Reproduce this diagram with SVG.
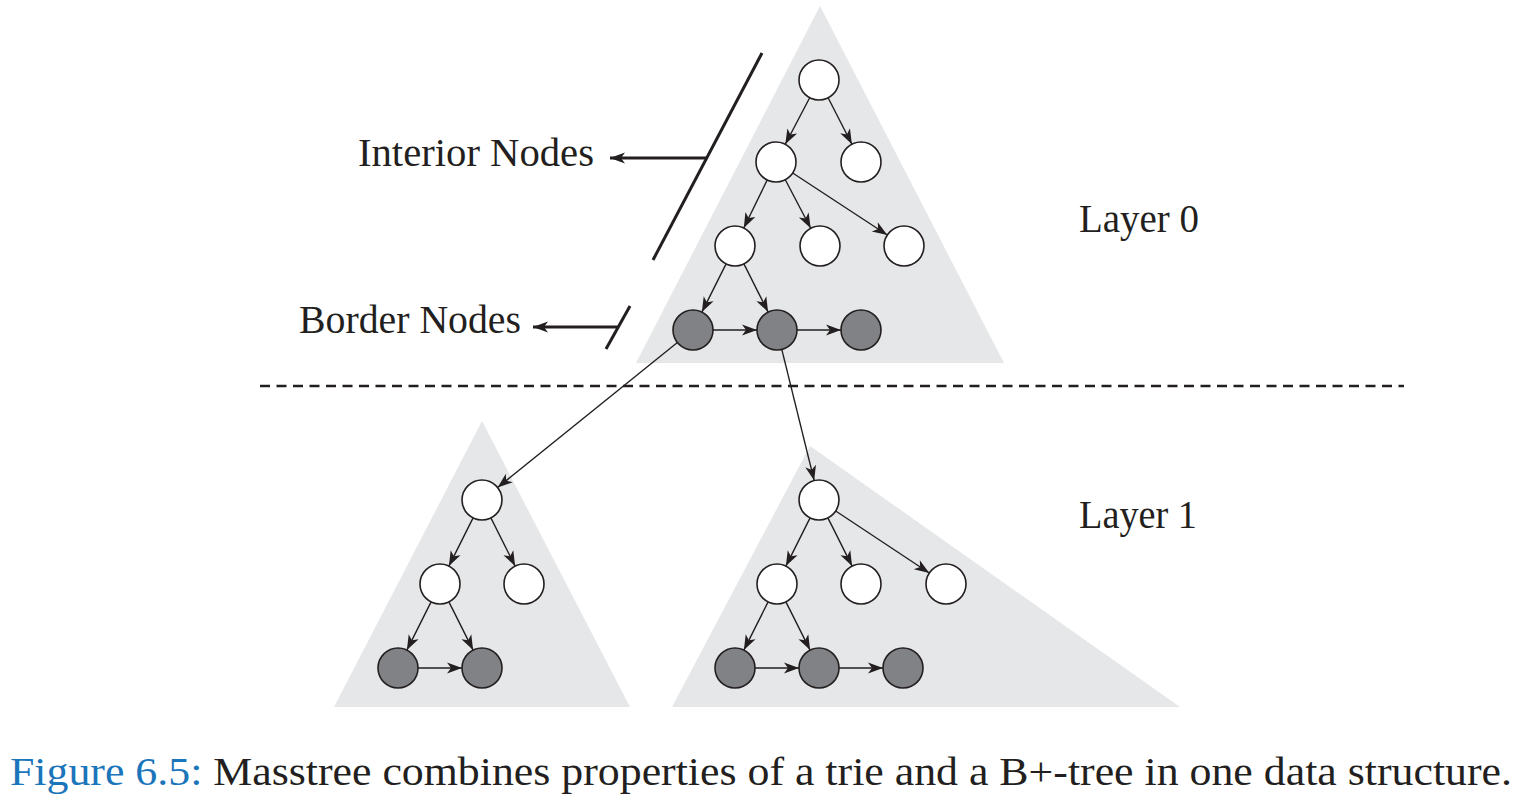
<svg xmlns="http://www.w3.org/2000/svg" width="1529" height="805" viewBox="0 0 1529 805">
<style>
.tri{fill:#e6e7e8;stroke:none}
.wn{fill:#ffffff;stroke:#231f20;stroke-width:1.6}
.gn{fill:#808285;stroke:#231f20;stroke-width:1.6}
.e{stroke:#231f20;stroke-width:1.4;fill:none;marker-end:url(#ah)}
.ann{stroke:#231f20;stroke-width:3;fill:none}
.lbl{font-family:"Liberation Serif","Times New Roman",serif;font-size:40px;fill:#231f20}
</style>
<defs>
<marker id="ah" markerUnits="userSpaceOnUse" viewBox="-16 -7 18 14" refX="0" refY="0" markerWidth="18" markerHeight="14" orient="auto">
<path d="M0,0 L-15,-5.5 L-11,0 L-15,5.5 Z" fill="#231f20"/>
</marker>
<marker id="ah2" markerUnits="userSpaceOnUse" viewBox="-16 -7 18 14" refX="0" refY="0" markerWidth="18" markerHeight="14" orient="auto">
<path d="M0,0 L-15,-5.5 L-11,0 L-15,5.5 Z" fill="#231f20"/>
</marker>
</defs>
<g id="triangles">
<polygon class="tri" points="820,6 636,363 1004,363"/>
<polygon class="tri" points="482,421 334,707 630,707"/>
<polygon class="tri" points="810,446 672,707 1180,707"/>
</g>
<line x1="260" y1="386" x2="1404" y2="386" stroke="#231f20" stroke-width="2.5" stroke-dasharray="10,6.5"/>
<g id="annotations">
<line class="ann" x1="762" y1="53" x2="653" y2="260"/>
<line class="ann" x1="706" y1="158" x2="610" y2="158" stroke-width="2.5" marker-end="url(#ah2)"/>
<line class="ann" x1="630" y1="306" x2="606" y2="349"/>
<line class="ann" x1="618" y1="327" x2="533" y2="327" stroke-width="2.5" marker-end="url(#ah2)"/>
</g>
<g id="connectors">
<line class="e" x1="809.7" y1="97.7" x2="785.3" y2="144.3"/>
<line class="e" x1="828.1" y1="97.8" x2="851.9" y2="144.2"/>
<line class="e" x1="767.2" y1="180" x2="743.8" y2="228"/>
<line class="e" x1="785.3" y1="179.7" x2="810.7" y2="228.3"/>
<line class="e" x1="792.7" y1="173" x2="887.3" y2="235"/>
<line class="e" x1="726.1" y1="263.9" x2="701.9" y2="312.1"/>
<line class="e" x1="743.9" y1="263.9" x2="768.1" y2="312.1"/>
<line class="e" x1="713" y1="330" x2="757" y2="330"/>
<line class="e" x1="797" y1="330" x2="841" y2="330"/>
<line class="e" x1="677.4" y1="342.5" x2="497.6" y2="487.5"/>
<line class="e" x1="781.8" y1="349.4" x2="814.2" y2="480.6"/>
<line class="e" x1="473.1" y1="517.9" x2="448.9" y2="566.1"/>
<line class="e" x1="490.9" y1="517.9" x2="515.1" y2="566.1"/>
<line class="e" x1="431.1" y1="601.9" x2="406.9" y2="650.1"/>
<line class="e" x1="448.9" y1="601.9" x2="473.1" y2="650.1"/>
<line class="e" x1="418" y1="668" x2="462" y2="668"/>
<line class="e" x1="810.1" y1="517.9" x2="785.9" y2="566.1"/>
<line class="e" x1="827.9" y1="517.9" x2="852.1" y2="566.1"/>
<line class="e" x1="835.7" y1="511" x2="929.3" y2="573"/>
<line class="e" x1="768.1" y1="601.9" x2="743.9" y2="650.1"/>
<line class="e" x1="785.9" y1="601.9" x2="810.1" y2="650.1"/>
<line class="e" x1="755" y1="668" x2="799" y2="668"/>
<line class="e" x1="839" y1="668" x2="883" y2="668"/>
</g>
<g id="n0a"><circle class="wn" cx="819" cy="80" r="20"/></g>
<g id="n0b"><circle class="wn" cx="776" cy="162" r="20"/></g>
<g id="n0c"><circle class="wn" cx="861" cy="162" r="20"/></g>
<g id="n0d"><circle class="wn" cx="735" cy="246" r="20"/></g>
<g id="n0e"><circle class="wn" cx="820" cy="246" r="20"/></g>
<g id="n0f"><circle class="wn" cx="904" cy="246" r="20"/></g>
<g id="n0g"><circle class="gn" cx="693" cy="330" r="20"/></g>
<g id="n0h"><circle class="gn" cx="777" cy="330" r="20"/></g>
<g id="n0i"><circle class="gn" cx="861" cy="330" r="20"/></g>
<g id="n1a"><circle class="wn" cx="482" cy="500" r="20"/></g>
<g id="n1b"><circle class="wn" cx="440" cy="584" r="20"/></g>
<g id="n1c"><circle class="wn" cx="524" cy="584" r="20"/></g>
<g id="n1d"><circle class="gn" cx="398" cy="668" r="20"/></g>
<g id="n1e"><circle class="gn" cx="482" cy="668" r="20"/></g>
<g id="n2a"><circle class="wn" cx="819" cy="500" r="20"/></g>
<g id="n2b"><circle class="wn" cx="777" cy="584" r="20"/></g>
<g id="n2c"><circle class="wn" cx="861" cy="584" r="20"/></g>
<g id="n2d"><circle class="wn" cx="946" cy="584" r="20"/></g>
<g id="n2e"><circle class="gn" cx="735" cy="668" r="20"/></g>
<g id="n2f"><circle class="gn" cx="819" cy="668" r="20"/></g>
<g id="n2g"><circle class="gn" cx="903" cy="668" r="20"/></g>
<g id="labels">
<text class="lbl" x="358" y="166" textLength="236" lengthAdjust="spacingAndGlyphs">Interior Nodes</text>
<text class="lbl" x="299" y="333" textLength="222" lengthAdjust="spacingAndGlyphs">Border Nodes</text>
<text class="lbl" x="1079" y="232" textLength="120" lengthAdjust="spacingAndGlyphs">Layer 0</text>
<text class="lbl" x="1079" y="528" textLength="118" lengthAdjust="spacingAndGlyphs">Layer 1</text>
<text class="lbl" x="10" y="785" textLength="1502" lengthAdjust="spacingAndGlyphs"><tspan fill="#1b75bb">Figure 6.5:</tspan> Masstree combines properties of a trie and a B+-tree in one data structure.</text>
</g>
</svg>
